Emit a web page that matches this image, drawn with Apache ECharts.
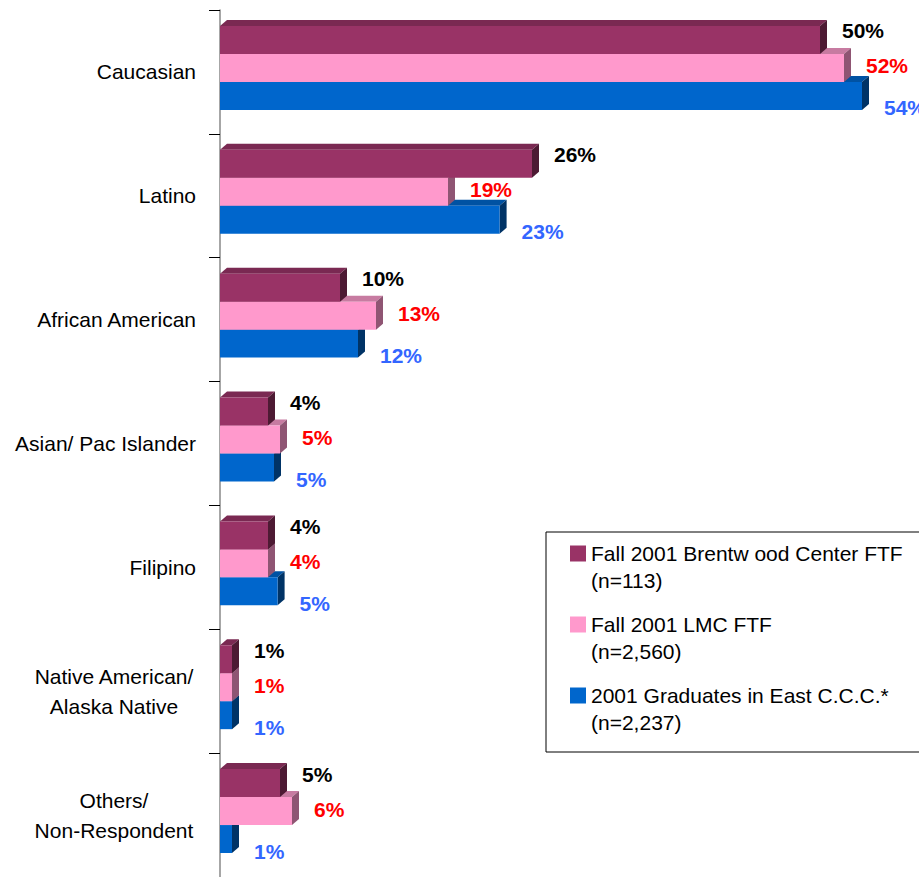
<!DOCTYPE html>
<html>
<head>
<meta charset="utf-8">
<script src="https://cdn.jsdelivr.net/npm/echarts@6/dist/echarts.min.js"></script>
<style>
html,body{margin:0;padding:0;background:#fff;}
#chart{width:919px;height:877px;}
</style>
</head>
<body>
<div id="chart"></div>
<script>
const categories = ['Caucasian', 'Latino', 'African American', 'Asian/ Pac Islander', 'Filipino', 'Native American/\nAlaska Native', 'Others/\nNon-Respondent'];
const seriesNames = ['Fall 2001 Brentw ood Center FTF\n(n=113)', 'Fall 2001 LMC FTF\n(n=2,560)', '2001 Graduates in East C.C.C.*\n(n=2,237)'];
const brentwood = [50, 26, 10, 4, 4, 1, 5];
const lmc = [52, 19, 13, 5, 4, 1, 6];
const grads = [53.5, 23.3, 11.5, 4.5, 4.8, 1, 1];

const FONT = '"Liberation Sans", Arial, sans-serif';
const styles = [
  {front: '#993366', top: '#7A2952', side: '#4D1A33', label: '#000000', off: -9},
  {front: '#FF99CC', top: '#C77BA1', side: '#8F5573', label: '#FF0000', off: -2},
  {front: '#0066CC', top: '#0052A3', side: '#003366', label: '#3366FF', off: 12}
];

function makeRender(s) {
  const st = styles[s];
  return function (params, api) {
    const cat = api.value(0);
    const val = api.value(1);
    const p0 = api.coord([0, cat]);
    const p1 = api.coord([val, cat]);
    const band = api.size([0, 1])[1];
    const barH = band * 28 / 124;
    const top = p0[1] - band * 46 / 124 + s * barH;
    const x0 = p0[0], x1 = p1[0];
    const dx = 7, dy = 6;
    return {
      type: 'group',
      children: [
        {type: 'polygon', shape: {points: [[x0, top], [x0 + dx, top - dy], [x1 + dx, top - dy], [x1, top]]}, style: {fill: st.top}},
        {type: 'polygon', shape: {points: [[x1, top], [x1 + dx, top - dy], [x1 + dx, top + barH - dy], [x1, top + barH]]}, style: {fill: st.side}},
        {type: 'rect', shape: {x: x0, y: top, width: x1 - x0, height: barH}, style: {fill: st.front}},
        {type: 'text', style: {x: x1 + 22, y: top + barH / 2 + st.off, text: Math.round(val) + '%', fill: st.label, font: 'bold 21px ' + FONT, align: 'left', verticalAlign: 'middle'}}
      ]
    };
  };
}

const allValues = [brentwood, lmc, grads];
const series = allValues.map(function (arr, s) {
  return {
    type: 'custom',
    name: seriesNames[s],
    z: 3 - s,
    itemStyle: {color: styles[s].front},
    renderItem: makeRender(s),
    encode: {x: 1, y: 0},
    data: arr.map(function (v, i) { return [i, v]; })
  };
});

const chart = echarts.init(document.getElementById('chart'), null, {renderer: 'svg'});
chart.setOption({
  animation: false,
  backgroundColor: '#ffffff',
  grid: {left: 220, top: 10, width: 696, height: 868},
  xAxis: {type: 'value', min: 0, max: 58, show: false},
  yAxis: {
    type: 'category',
    inverse: true,
    data: categories,
    offset: 9,
    axisLine: {show: true, lineStyle: {color: '#888888', width: 1.5}},
    axisTick: {show: true, length: 11, lineStyle: {color: '#000000', width: 1}},
    axisLabel: {
      margin: 15,
      fontSize: 21,
      fontFamily: FONT,
      color: '#000000',
      formatter: function (v) {
        if (v.indexOf('\n') >= 0) {
          return v.split('\n').map(function (l) { return '{c|' + l + '}'; }).join('\n');
        }
        return v;
      },
      rich: {c: {width: 164, align: 'center', fontSize: 21, fontFamily: FONT, color: '#000000', lineHeight: 30}}
    },
    splitLine: {show: false}
  },
  legend: {
    orient: 'vertical',
    left: 570,
    top: 513,
    padding: 0,
    itemGap: -10,
    itemWidth: 16,
    itemHeight: 16,
    icon: 'rect',
    data: seriesNames,
    formatter: function (name) { return '\n' + name; },
    textStyle: {fontSize: 21, fontFamily: FONT, color: '#000000', lineHeight: 27}
  },
  graphic: [{
    type: 'rect',
    shape: {x: 546, y: 532, width: 390, height: 220},
    style: {fill: 'none', stroke: '#000000', lineWidth: 1},
    z: 10
  }],
  series: series
});
</script>
</body>
</html>
